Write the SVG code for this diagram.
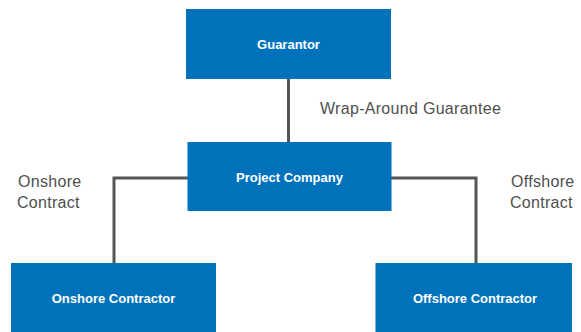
<svg xmlns="http://www.w3.org/2000/svg" width="581" height="332" viewBox="0 0 581 332">
<style>
.box{fill:#0072BC;}
.nt{font-family:"Liberation Sans",Arial,sans-serif;font-size:13px;font-weight:bold;fill:#ffffff;text-anchor:middle;}
.lbl{font-family:"Liberation Sans",Arial,sans-serif;font-size:16px;fill:#4f4f4f;letter-spacing:0.3px;}
.ln{stroke:#555555;stroke-width:3;fill:none;}
</style>
<rect width="581" height="332" fill="#ffffff"/>
<g id="connectors">
<path class="ln" d="M288.5 79 V142"/>
<path class="ln" d="M188 178 H114 V263"/>
<path class="ln" d="M391 178 H476 V263"/>
</g>
<g id="guarantor">
<rect class="box" x="186" y="9" width="205" height="70"/>
<text class="nt" x="288.5" y="49">Guarantor</text>
</g>
<g id="project-company">
<rect class="box" x="187.5" y="142" width="204" height="69"/>
<text class="nt" x="289.5" y="182">Project Company</text>
</g>
<g id="onshore-contractor">
<rect class="box" x="11" y="263" width="205" height="70"/>
<text class="nt" x="113.5" y="303">Onshore Contractor</text>
</g>
<g id="offshore-contractor">
<rect class="box" x="375.5" y="263" width="196.5" height="70"/>
<text class="nt" x="475" y="303">Offshore Contractor</text>
</g>
<g id="labels">
<text class="lbl" x="320" y="114">Wrap-Around Guarantee</text>
<text class="lbl" x="18" y="187">Onshore</text>
<text class="lbl" x="17" y="208">Contract</text>
<text class="lbl" x="511" y="187">Offshore</text>
<text class="lbl" x="510" y="208">Contract</text>
</g>
</svg>
